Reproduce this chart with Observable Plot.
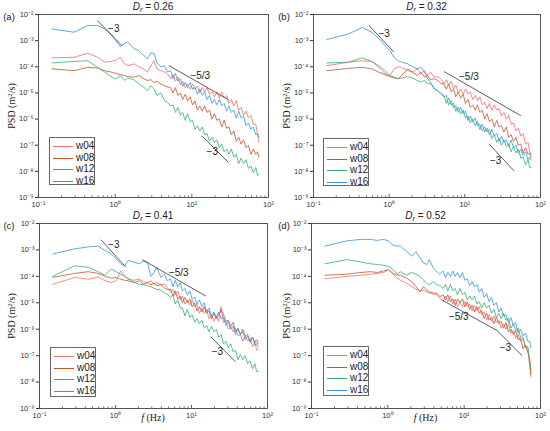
<!DOCTYPE html>
<html>
<head>
<meta charset="utf-8">
<script src="https://cdn.jsdelivr.net/npm/d3@7"></script>
<script src="https://cdn.jsdelivr.net/npm/@observablehq/plot@0.6"></script>
<style>
  html, body { margin: 0; padding: 0; background: #fff; }
  #root { position: relative; width: 550px; height: 431px; overflow: hidden; font-family: "Liberation Sans", Arial, sans-serif; color: #222; }
  .panel { position: absolute; }
  .lbl { position: absolute; transform: translate(-50%, -50%); white-space: nowrap; line-height: 1; }
  .title { font-size: 10px; }
  .tag { font-size: 9.5px; }
  .ylab { font-family: "Liberation Serif", "Times New Roman", serif; font-size: 10px; transform: translate(-50%, -50%) rotate(-90deg); }
  .xlab { font-family: "Liberation Serif", "Times New Roman", serif; font-size: 10px; }
  .legend { position: absolute; border: 1px solid #666; background: #fff; box-sizing: border-box; }
  .legend .row { position: absolute; left: 3px; height: 10px; font-size: 10px; line-height: 10px; }
  .legend .sw { position: absolute; left: 0; top: 5px; width: 20px; height: 0; border-top: 1px solid; }
  .legend .tx { position: absolute; left: 23px; top: 0; }
  sub { font-size: 0.75em; vertical-align: -0.2em; line-height: 0; }
</style>
</head>
<body>
<div id="root"></div>
<script>
// ---------- shared data ----------
const series = ["w04", "w08", "w12", "w16"];
const colors = ["#ef6f6c", "#b9582c", "#35ad72", "#3596d6"];
const panelTitles = ["0.26", "0.32", "0.41", "0.52"];
const panelTags = ["(a)", "(b)", "(c)", "(d)"];
const xTicks = [0.1, 1, 10, 100];
const xMinor = [0.2, 0.3, 0.4, 0.5, 0.6, 0.7, 0.8, 0.9, 2, 3, 4, 5, 6, 7, 8, 9, 20, 30, 40, 50, 60, 70, 80, 90];
const yTicks = [1e-9, 1e-8, 1e-7, 1e-6, 1e-5, 1e-4, 1e-3, 1e-2];

// frequency grid (Hz) shared by every spectrum
const freq = [0.15, 0.29, 0.44, 0.59, 0.73, 0.88, 1.02, 1.17, 1.32, 1.46, 1.76, 2.05, 2.34, 2.63, 2.93, 3.22, 3.51, 3.95, 4.4, 4.8,
  5.3, 5.7, 6.1, 6.6, 7.1, 7.6, 8.2, 8.8, 9.5, 10.2, 11, 11.8, 12.7, 13.7, 14.7, 15.8, 17, 18.3, 19.7, 21.2,
  22.8, 24.5, 26.4, 28.4, 30.5, 32.8, 35.3, 38, 40.9, 44, 47.3, 50.9, 54.8, 59, 63.5, 68.3, 72, 75];

// ---------- panel (a) Dr = 0.26 ----------
const a_w04 = [2.2e-4, 2.3e-4, 3.3e-4, 2.3e-4, 1.5e-4, 1.6e-4, 1.8e-4, 2.3e-4, 1.3e-4, 1.1e-4, 1.3e-4, 1e-4, 8.3e-5, 6.3e-5, 1.1e-4, 1.7e-4, 8.3e-5, 7.1e-5, 6.3e-5, 5.4e-5,
  3.5e-5, 5e-5, 2.8e-5, 4e-5, 2e-5, 2.8e-5, 1.6e-5, 2.2e-5, 1.4e-5, 2.2e-5, 1.4e-5, 1.8e-5, 1e-5, 1.6e-5, 1.1e-5, 1.6e-5, 8.9e-6, 1.1e-5, 7.1e-6, 1.1e-5,
  6.3e-6, 1.1e-5, 6.3e-6, 8e-6, 4e-6, 5.6e-6, 3.2e-6, 5e-6, 2.2e-6, 2.8e-6, 1.4e-6, 2e-6, 1.1e-6, 1.4e-6, 6.3e-7, 6.3e-7, 2.5e-7, 1.3e-7];
const a_w08 = [8.3e-5, 7.1e-5, 9.5e-5, 8.9e-5, 7.1e-5, 6.3e-5, 5.6e-5, 5e-5, 4.6e-5, 4.2e-5, 4e-5, 4.6e-5, 3.5e-5, 3e-5, 3.2e-5, 2.5e-5, 2.8e-5, 2.2e-5, 1.9e-5, 1.7e-5,
  1.6e-5, 1e-5, 1.6e-5, 8e-6, 1e-5, 5.6e-6, 8.9e-6, 5e-6, 7.1e-6, 3.5e-6, 5e-6, 2.2e-6, 3.2e-6, 2e-6, 3.2e-6, 1.8e-6, 2.2e-6, 1e-6, 1.6e-6, 8.9e-7,
  1e-6, 5e-7, 8.9e-7, 4.5e-7, 5e-7, 2.5e-7, 3.5e-7, 1.4e-7, 2e-7, 1.1e-7, 1.6e-7, 8e-8, 1e-7, 4.5e-8, 7.1e-8, 4.5e-8, 5.6e-8, 3.5e-8];
const a_w12 = [1.4e-4, 1.6e-4, 1.7e-4, 9.5e-5, 6.3e-5, 4.2e-5, 3.4e-5, 4.6e-5, 3e-5, 3.7e-5, 3.2e-5, 2.2e-5, 1.7e-5, 1.2e-5, 1.9e-5, 1.4e-5, 8e-6, 1e-5, 5e-6, 4.4e-6,
  3.2e-6, 3.5e-6, 1.8e-6, 2.8e-6, 1.4e-6, 1.8e-6, 8.9e-7, 1.6e-6, 8e-7, 8.9e-7, 4e-7, 5.6e-7, 3.5e-7, 5e-7, 2.5e-7, 2.8e-7, 1.4e-7, 2e-7, 1.3e-7, 1.6e-7,
  8e-8, 1.1e-7, 5.6e-8, 7.1e-8, 4.5e-8, 7.1e-8, 3.5e-8, 4.5e-8, 2e-8, 3.2e-8, 2e-8, 2.8e-8, 1.3e-8, 1.6e-8, 8.9e-9, 1.4e-8, 7.1e-9, 8e-9];
const a_w16 = [2.8e-3, 2.1e-3, 3.8e-3, 3.8e-3, 2.8e-3, 1.8e-3, 1e-3, 5.9e-4, 7.9e-4, 8.9e-4, 5e-4, 4e-4, 2.8e-4, 2e-4, 3.5e-4, 3.2e-4, 1.4e-4, 1e-4, 1.1e-4, 6.3e-5,
  7.1e-5, 3.5e-5, 5.6e-5, 2.8e-5, 3.5e-5, 1.8e-5, 2.5e-5, 1.6e-5, 2.5e-5, 1.4e-5, 1.6e-5, 8.9e-6, 1.4e-5, 8e-6, 1.1e-5, 5.6e-6, 8e-6, 4e-6, 5.6e-6, 3.5e-6,
  5.6e-6, 3.2e-6, 4e-6, 2e-6, 3.2e-6, 1.8e-6, 2.2e-6, 1.1e-6, 2e-6, 1.1e-6, 1.3e-6, 5.6e-7, 7.1e-7, 4e-7, 5e-7, 2.5e-7, 2.8e-7, 2e-7];
const a_slopeF = [[0.585, 1.24], [5.0, 30], [13.5, 30]];
const a_slopeP = [[5.9e-3, 6.2e-4], [1.12e-4, 5.5e-6], [2.3e-7, 2.2e-8]];
const a_noteText = ["\u22123", "\u22125/3", "\u22123"];
const a_noteF = [0.96, 12.9, 18.5];
const a_noteP = [2.8e-3, 4.6e-5, 5.4e-8];

// ---------- panel (b) Dr = 0.32 ----------
const b_w04 = [1.1e-4, 1.5e-4, 1.7e-4, 1.6e-4, 9.5e-5, 5.6e-5, 4.6e-5, 8.3e-5, 1e-4, 9.5e-5, 7.1e-5, 6.2e-5, 8.3e-5, 5.4e-5, 7.1e-5, 4.6e-5, 6.2e-5, 4e-5, 4.2e-5, 3.5e-5,
  2.2e-5, 3.2e-5, 2e-5, 2.8e-5, 1.4e-5, 2e-5, 1e-5, 1.4e-5, 8.9e-6, 1.4e-5, 8.9e-6, 1.1e-5, 5.6e-6, 8e-6, 5e-6, 7.1e-6, 3.5e-6, 4.5e-6, 2.5e-6, 4e-6,
  2.2e-6, 3.5e-6, 2.2e-6, 2.5e-6, 1.3e-6, 1.8e-6, 1e-6, 1.4e-6, 6.3e-7, 7.1e-7, 3.5e-7, 4.5e-7, 2.2e-7, 2.8e-7, 1.1e-7, 1.3e-7, 5.6e-8, 4.5e-8];
const b_w08 = [7.1e-5, 8.7e-5, 9.5e-5, 8.3e-5, 6.2e-5, 5e-5, 4.2e-5, 3.7e-5, 3.5e-5, 4.6e-5, 8.3e-5, 6.2e-5, 4.6e-5, 6.2e-5, 4e-5, 4.6e-5, 3.2e-5, 3.5e-5, 3e-5, 2.3e-5,
  2.2e-5, 1.4e-5, 2.2e-5, 1.1e-5, 1.4e-5, 7.1e-6, 1.1e-5, 6.3e-6, 8.9e-6, 4e-6, 5.6e-6, 2.8e-6, 3.5e-6, 2.2e-6, 3.5e-6, 1.8e-6, 2.2e-6, 1e-6, 1.6e-6, 8e-7,
  1e-6, 5e-7, 8.9e-7, 5e-7, 5.6e-7, 3.2e-7, 5e-7, 2e-7, 2.5e-7, 1.4e-7, 2e-7, 1e-7, 1.1e-7, 5e-8, 8e-8, 4.5e-8, 5e-8, 3.5e-8];
const b_w12 = [1.4e-4, 1.5e-4, 2.2e-4, 1.6e-4, 1.1e-4, 7.1e-5, 4.6e-5, 4e-5, 3.5e-5, 3.7e-5, 4.2e-5, 3.7e-5, 3e-5, 2.6e-5, 3e-5, 2.2e-5, 2.3e-5, 1.5e-5, 1.2e-5, 9.1e-6,
  7.1e-6, 8e-6, 3.5e-6, 5e-6, 2.8e-6, 3.2e-6, 1.8e-6, 2.8e-6, 1.6e-6, 2e-6, 8.9e-7, 1.3e-6, 8e-7, 1.1e-6, 5.6e-7, 6.3e-7, 3.5e-7, 5e-7, 3.2e-7, 4e-7,
  1.8e-7, 2.5e-7, 1.3e-7, 1.8e-7, 1e-7, 1.6e-7, 8.9e-8, 1.1e-7, 5.6e-8, 8.9e-8, 5e-8, 7.1e-8, 3.2e-8, 3.5e-8, 1.8e-8, 2.8e-8, 1.4e-8, 1.4e-8];
const b_w16 = [1.1e-3, 1.8e-3, 3.2e-3, 2.1e-3, 1.2e-3, 6.5e-4, 4.2e-4, 2.2e-4, 1.7e-4, 1.5e-4, 1.3e-4, 1e-4, 8.3e-5, 9.5e-5, 6.3e-5, 3.5e-5, 2.6e-5, 1.4e-5, 1.2e-5, 9.8e-6,
  8e-6, 4e-6, 6.3e-6, 3.5e-6, 4e-6, 2e-6, 2.8e-6, 1.6e-6, 2.2e-6, 1.1e-6, 1.3e-6, 7.1e-7, 1e-6, 5.6e-7, 8e-7, 4e-7, 6.3e-7, 3.2e-7, 4.5e-7, 2.5e-7,
  4e-7, 2.2e-7, 2.8e-7, 1.4e-7, 2.2e-7, 1.3e-7, 1.6e-7, 8.9e-8, 1.6e-7, 8e-8, 1e-7, 5e-8, 7.1e-8, 4e-8, 5.6e-8, 2.8e-8, 3.5e-8, 2.8e-8];
const b_slopeF = [[0.54, 1.16], [5.3, 55], [21, 44.6]];
const b_slopeP = [[3.8e-3, 3.6e-4], [6.6e-5, 1.35e-6], [1.1e-7, 1.05e-8]];
const b_noteText = ["\u22123", "\u22125/3", "\u22123"];
const b_noteF = [0.86, 11.3, 25.6];
const b_noteP = [1.8e-3, 4.2e-5, 2.5e-8];

// ---------- panel (c) Dr = 0.41 ----------
const c_w04 = [5e-5, 9.1e-5, 7.8e-5, 9.5e-5, 6.8e-5, 5.8e-5, 6.8e-5, 1.6e-4, 1e-4, 7.8e-5, 7.1e-5, 7.8e-5, 6.3e-5, 5.8e-5, 6.8e-5, 5e-5, 5.8e-5, 4.8e-5, 5e-5, 3.7e-5,
  2.5e-5, 3.2e-5, 2e-5, 2.8e-5, 1.3e-5, 1.8e-5, 8.9e-6, 1.3e-5, 8e-6, 1.3e-5, 7.1e-6, 8.9e-6, 4e-6, 6.3e-6, 4e-6, 5.6e-6, 2.5e-6, 3.2e-6, 2e-6, 3.2e-6,
  2e-6, 7.1e-6, 1.8e-6, 2e-6, 1e-6, 1.3e-6, 8e-7, 1.1e-6, 5.6e-7, 6.3e-7, 3.5e-7, 5.6e-7, 3.5e-7, 4.5e-7, 2.2e-7, 3.2e-7, 1.6e-7, 1.8e-7];
const c_w08 = [9.1e-5, 1.3e-4, 1.5e-4, 1.3e-4, 1e-4, 8.5e-5, 9.1e-5, 7.8e-5, 7.1e-5, 6.8e-5, 5.8e-5, 6.8e-5, 5e-5, 5.8e-5, 4.8e-5, 5.4e-5, 4.4e-5, 4.8e-5, 3.7e-5, 3.2e-5,
  3.2e-5, 1.8e-5, 2.8e-5, 1.4e-5, 1.8e-5, 1e-5, 1.6e-5, 1e-5, 1.4e-5, 7.1e-6, 1e-5, 5e-6, 7.1e-6, 4.5e-6, 7.1e-6, 4e-6, 5e-6, 2.5e-6, 4e-6, 2.5e-6,
  3.5e-6, 5.6e-6, 3.5e-6, 2e-6, 2.2e-6, 1.3e-6, 1.8e-6, 8e-7, 1e-6, 6.3e-7, 1e-6, 5.6e-7, 6.3e-7, 3.2e-7, 5e-7, 3.2e-7, 4e-7, 2.8e-7];
const c_w12 = [1e-4, 2.5e-4, 2.2e-4, 1.5e-4, 1.1e-4, 1.9e-4, 1.5e-4, 1.2e-4, 1e-4, 8.5e-5, 5.8e-5, 5e-5, 4.8e-5, 4.4e-5, 4e-5, 3.5e-5, 3.2e-5, 3e-5, 2.4e-5, 2.1e-5,
  1.6e-5, 2e-5, 8.9e-6, 1.3e-5, 6.3e-6, 6.3e-6, 3.2e-6, 5.6e-6, 2.8e-6, 3.5e-6, 1.8e-6, 2.5e-6, 1.6e-6, 2.2e-6, 1.1e-6, 1.4e-6, 8e-7, 1.3e-6, 8e-7, 1e-6,
  5e-7, 6.3e-7, 2.8e-7, 3.5e-7, 2e-7, 2.8e-7, 1.4e-7, 1.6e-7, 7.1e-8, 1.1e-7, 7.1e-8, 1e-7, 5e-8, 6.3e-8, 3.2e-8, 5e-8, 2.5e-8, 2.5e-8];
const c_w16 = [7.1e-4, 1.1e-3, 1.3e-3, 1.4e-3, 9.5e-4, 7.1e-4, 4.6e-4, 3e-4, 2.5e-4, 4e-4, 3.4e-4, 3e-4, 3.7e-4, 3.4e-4, 1e-4, 1.4e-4, 2.2e-4, 9.1e-5, 1.2e-4, 6.8e-5,
  8e-5, 4e-5, 7.1e-5, 4e-5, 5.6e-5, 2.8e-5, 3.5e-5, 2e-5, 2.8e-5, 1.4e-5, 1.6e-5, 8.9e-6, 1.3e-5, 7.1e-6, 1e-5, 4.5e-6, 6.3e-6, 3.2e-6, 4.5e-6, 2.8e-6,
  4.5e-6, 2.5e-6, 2.8e-6, 1.4e-6, 2e-6, 1e-6, 1.3e-6, 6.3e-7, 1.1e-6, 6.3e-7, 8e-7, 4e-7, 5.6e-7, 3.5e-7, 5e-7, 2.5e-7, 2.8e-7, 2.2e-7];
const c_slopeF = [[0.64, 1.36], [2.25, 15.4], [17.9, 38.1]];
const c_slopeP = [[2.45e-3, 2.3e-4], [4.3e-4, 1.8e-5], [5.2e-7, 5.8e-8]];
const c_noteText = ["\u22123", "\u22125/3", "\u22123"];
const c_noteF = [0.95, 6.8, 21.9];
const c_noteP = [1.5e-3, 1.4e-4, 1.4e-7];

// ---------- panel (d) Dr = 0.52 ----------
const d_w04 = [8.1e-5, 1e-4, 1.1e-4, 1.2e-4, 1.3e-4, 1.4e-4, 1.8e-4, 1.2e-4, 8.5e-5, 7.1e-5, 5.5e-5, 4.1e-5, 3.3e-5, 2.8e-5, 3e-5, 2.6e-5, 2.3e-5, 2.5e-5, 1.9e-5, 1.5e-5,
  1.1e-5, 1.8e-5, 1.1e-5, 1.8e-5, 8.9e-6, 1.4e-5, 7.1e-6, 1.1e-5, 7.1e-6, 1.1e-5, 7.1e-6, 8.9e-6, 5e-6, 8e-6, 5e-6, 7.1e-6, 3.5e-6, 4.5e-6, 2.2e-6, 3.5e-6,
  2e-6, 3.2e-6, 1.8e-6, 2.2e-6, 1.1e-6, 1.6e-6, 1e-6, 1.6e-6, 7.1e-7, 8.9e-7, 4.5e-7, 6.3e-7, 3.5e-7, 4.5e-7, 2e-7, 1.8e-7, 4e-8, 1.6e-8];
const d_w08 = [1.1e-4, 1.2e-4, 1.4e-4, 1.5e-4, 1.4e-4, 1.6e-4, 1.8e-4, 1.3e-4, 1.1e-4, 1.1e-4, 8.5e-5, 6.3e-5, 4.1e-5, 2.6e-5, 4.1e-5, 3e-5, 2.6e-5, 2.1e-5, 2.3e-5, 1.7e-5,
  2e-5, 1.3e-5, 2e-5, 1.1e-5, 1.4e-5, 8e-6, 1.4e-5, 1e-5, 1.4e-5, 7.1e-6, 1.1e-5, 5.6e-6, 8e-6, 4.5e-6, 7.1e-6, 4e-6, 5e-6, 2.5e-6, 4e-6, 2.2e-6,
  2.8e-6, 1.6e-6, 2.8e-6, 1.6e-6, 2e-6, 1.1e-6, 1.8e-6, 8e-7, 1e-6, 6.3e-7, 8.9e-7, 4e-7, 4.5e-7, 1.8e-7, 2.5e-7, 1.3e-7, 8e-8, 2e-8];
const d_w12 = [3e-4, 4.3e-4, 3.5e-4, 3e-4, 2.8e-4, 2.6e-4, 2.4e-4, 1.8e-4, 1.2e-4, 1.5e-4, 1.1e-4, 1.4e-4, 1.2e-4, 1e-4, 7.4e-5, 5.5e-5, 4.8e-5, 6.3e-5, 4.8e-5, 4.5e-5,
  3.5e-5, 5e-5, 2.8e-5, 5e-5, 2.8e-5, 3.5e-5, 2e-5, 3.5e-5, 2e-5, 2.5e-5, 1.3e-5, 1.8e-5, 1.3e-5, 1.8e-5, 8.9e-6, 1.1e-5, 6.3e-6, 1e-5, 6.3e-6, 8e-6,
  4e-6, 5.6e-6, 2.8e-6, 4e-6, 2.5e-6, 4e-6, 2.2e-6, 2.5e-6, 1.1e-6, 1.6e-6, 8.9e-7, 1.1e-6, 5e-7, 5e-7, 2.2e-7, 2.2e-7, 6.3e-8, 3.2e-8];
const d_w16 = [1.4e-3, 2.2e-3, 2.5e-3, 2.5e-3, 2.3e-3, 2.5e-3, 2.2e-3, 1.5e-3, 1.4e-3, 1.4e-3, 8.9e-4, 5.8e-4, 8.5e-4, 5e-4, 3.2e-4, 2.8e-4, 4.3e-4, 2e-4, 1.5e-4, 1.2e-4,
  1.6e-4, 8.9e-5, 1.4e-4, 1e-4, 1.6e-4, 1e-4, 1.4e-4, 8.9e-5, 1.4e-4, 7.1e-5, 8e-5, 4.5e-5, 6.3e-5, 4e-5, 5e-5, 2.5e-5, 3.5e-5, 1.6e-5, 2.2e-5, 1.1e-5,
  1.6e-5, 8e-6, 1e-5, 4.5e-6, 6.3e-6, 3.2e-6, 3.5e-6, 1.8e-6, 2.8e-6, 1.4e-6, 1.8e-6, 7.1e-7, 1e-6, 5.6e-7, 7.1e-7, 3.5e-7, 3.5e-7, 2e-7];
const d_slopeF = [[5.15, 27], [27, 57.5]];
const d_slopeP = [[1.26e-5, 8.9e-7], [8.9e-7, 1e-7]];
const d_noteText = ["\u22125/3", "\u22123"];
const d_noteF = [8.5, 34.7];
const d_noteP = [2.9e-6, 2e-7];

// ---------- assembly ----------
const panels = [
  { vals: [a_w04, a_w08, a_w12, a_w16], sF: a_slopeF, sP: a_slopeP, nT: a_noteText, nF: a_noteF, nP: a_noteP,
    left: 0, top: 0, ml: 38, mr: 7, mt: 14, mb: 18, legend: [49, 137, 46, 48], xlab: false },
  { vals: [b_w04, b_w08, b_w12, b_w16], sF: b_slopeF, sP: b_slopeP, nT: b_noteText, nF: b_noteF, nP: b_noteP,
    left: 275, top: 0, ml: 38, mr: 10, mt: 14, mb: 18, legend: [323, 138, 46, 48], xlab: false },
  { vals: [c_w04, c_w08, c_w12, c_w16], sF: c_slopeF, sP: c_slopeP, nT: c_noteText, nF: c_noteF, nP: c_noteP,
    left: 0, top: 209, ml: 39, mr: 8, mt: 14, mb: 16, legend: [50, 347, 46, 50], xlab: true },
  { vals: [d_w04, d_w08, d_w12, d_w16], sF: d_slopeF, sP: d_slopeP, nT: d_noteText, nF: d_noteF, nP: d_noteP,
    left: 275, top: 209, ml: 36, mr: 10, mt: 14, mb: 16, legend: [323, 346, 46, 50], xlab: true }
];

const supMap = { "-": "\u207B", "0": "\u2070", "1": "\u00B9", "2": "\u00B2", "3": "\u00B3", "4": "\u2074", "5": "\u2075", "6": "\u2076", "7": "\u2077", "8": "\u2078", "9": "\u2079" };
const powFmt = d => "10" + String(Math.round(Math.log10(d))).split("").map(c => supMap[c]).join("");

const root = document.getElementById("root");
const W = 275, H = 215;

function addLabel(html, cls, x, y) {
  const el = document.createElement("div");
  el.className = "lbl " + cls;
  el.style.left = x + "px";
  el.style.top = y + "px";
  el.innerHTML = html;
  root.appendChild(el);
}

panels.forEach((p, k) => {
  const rows = [];
  p.vals.forEach((arr, si) => arr.forEach((v, i) => {
    if (i < freq.length) rows.push({ f: freq[i], psd: v, s: series[si] });
  }));
  const slopes = p.sF.map((f, i) => ({ x1: f[0], x2: f[1], y1: p.sP[i][0], y2: p.sP[i][1] }));
  const notes = p.nT.map((t, i) => ({ t, f: p.nF[i], v: p.nP[i] }));
  const frameH = H - p.mt - p.mb;

  const chart = Plot.plot({
    width: W, height: H,
    marginLeft: p.ml, marginRight: p.mr, marginTop: p.mt, marginBottom: p.mb,
    style: { fontFamily: "'Liberation Sans', Arial, sans-serif", fontSize: "7.5px", color: "#333", background: "transparent", overflow: "visible" },
    x: { type: "log", domain: [0.1, 100] },
    y: { type: "log", domain: [1e-9, 1e-2] },
    color: { domain: series, range: colors },
    marks: [
      Plot.line(rows, { x: "f", y: "psd", z: "s", stroke: "s", strokeWidth: 0.8 }),
      Plot.link(slopes, { x1: "x1", y1: "y1", x2: "x2", y2: "y2", stroke: "#333", strokeWidth: 0.8 }),
      Plot.text(notes, { x: "f", y: "v", text: "t", fontSize: 10, fill: "#222", textAnchor: "middle" }),
      Plot.ruleX(xTicks, { x: d => d, insetTop: frameH - 3, stroke: "#333", strokeWidth: 0.8 }),
      Plot.ruleX(xMinor, { x: d => d, insetTop: frameH - 1.6, stroke: "#333", strokeWidth: 0.7 }),
      Plot.axisX({ ticks: xTicks, tickFormat: powFmt, tickSize: 0, tickPadding: 4, label: null }),
      Plot.axisY({ ticks: yTicks, tickFormat: powFmt, tickSize: 3, tickPadding: 2, label: null }),
      Plot.frame({ stroke: "#444", strokeWidth: 0.9 })
    ]
  });
  const holder = document.createElement("div");
  holder.className = "panel";
  holder.style.left = p.left + "px";
  holder.style.top = p.top + "px";
  holder.appendChild(chart);
  root.appendChild(holder);

  const fx0 = p.left + p.ml, fx1 = p.left + W - p.mr;
  const fy0 = p.top + p.mt, fy1 = p.top + H - p.mb;
  const cx = (fx0 + fx1) / 2;
  addLabel("<i>D</i><sub><i>r</i></sub> = " + panelTitles[k], "title", cx, fy0 - 7);
  addLabel(panelTags[k], "tag", p.left + 9, fy0 + 3);
  addLabel("PSD (m<sup style='font-size:0.7em;vertical-align:0.5em;line-height:0'>2</sup>/s)", "ylab", p.left + 12, (fy0 + fy1) / 2);
  if (p.xlab) addLabel("<i>f</i> (Hz)", "xlab", cx, fy1 + 10);

  // legend
  const [lx, ly, lw, lh] = p.legend;
  const lg = document.createElement("div");
  lg.className = "legend";
  lg.style.left = lx + "px"; lg.style.top = ly + "px";
  lg.style.width = lw + "px"; lg.style.height = lh + "px";
  series.forEach((s, i) => {
    const r = document.createElement("div");
    r.className = "row";
    r.style.top = (3 + i * 11.5) + "px";
    r.innerHTML = `<span class="sw" style="border-color:${colors[i]}"></span><span class="tx">${s}</span>`;
    lg.appendChild(r);
  });
  root.appendChild(lg);
});
</script>
</body>
</html>
